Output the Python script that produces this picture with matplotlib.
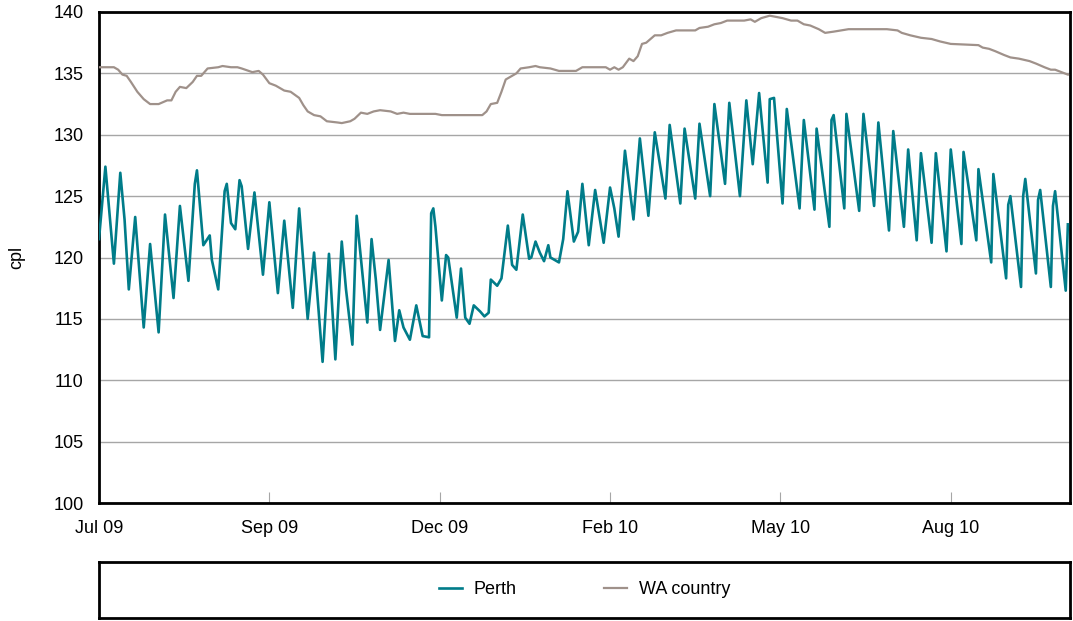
import matplotlib
matplotlib.use('Agg')
import matplotlib.pyplot as plt
from matplotlib.lines import Line2D

plt.rcParams['font.family'] = ['Liberation Sans', 'DejaVu Sans']

# x axis is days since 1 Jul 2009, ticks every 80 days
tick_days = [0, 80, 160, 240, 320, 400]
tick_labels = ['Jul 09', 'Sep 09', 'Dec 09', 'Feb 10', 'May 10', 'Aug 10']
y_ticks = [100, 105, 110, 115, 120, 125, 130, 135, 140]

# Perth, turning points
perth_day = [0, 3, 7, 10, 12, 14, 17, 21, 24, 28, 31, 35, 38, 42, 45, 46, 49, 52, 53, 56,
             59, 60, 62, 64, 66, 67, 70, 73, 77, 80, 84, 87, 91, 94, 98, 101, 105, 108, 111, 114,
             116, 119, 121, 126, 128, 130, 132, 136, 139, 141, 143, 146, 149, 152, 155, 156, 157, 158, 161, 163,
             164, 168, 170, 172, 174, 176, 179, 181, 183, 184, 187, 189, 192, 194, 196, 199, 202, 203, 205, 207,
             209, 211, 212, 216, 218, 220, 223, 225, 227, 230, 233, 237, 240, 242, 244, 247, 251, 254, 258, 261,
             266, 268, 273, 275, 280, 282, 287, 289, 294, 296, 301, 304, 307, 310, 314, 315, 317, 321, 323, 329,
             331, 336, 337, 343, 344, 345, 350, 351, 357, 359, 364, 366, 371, 373, 378, 380, 384, 386, 391, 393,
             398, 400, 405, 406, 412, 413, 419, 420, 426, 427, 428, 433, 434, 435, 440, 441, 442, 447, 448, 449,
             454, 455]
perth_cpl = [121.5, 127.4, 119.5, 126.9, 123.1, 117.4, 123.3, 114.3, 121.1, 113.9, 123.5, 116.7, 124.2, 118.1, 126.0, 127.1, 121.0, 121.8, 119.8, 117.4,
             125.4, 126.0, 122.8, 122.3, 126.3, 125.8, 120.7, 125.3, 118.6, 124.5, 117.1, 123.0, 115.9, 124.0, 115.0, 120.4, 111.5, 120.3, 111.7, 121.3,
             117.4, 112.9, 123.4, 114.7, 121.5, 118.2, 114.1, 119.8, 113.2, 115.7, 114.3, 113.3, 116.1, 113.6, 113.5, 123.6, 124.0, 122.5, 116.5, 120.2,
             120.0, 115.1, 119.1, 115.1, 114.6, 116.1, 115.6, 115.2, 115.5, 118.2, 117.7, 118.3, 122.6, 119.4, 119.0, 123.5, 119.9, 120.0, 121.3, 120.4,
             119.7, 121.0, 120.0, 119.6, 121.5, 125.4, 121.3, 122.1, 126.0, 121.0, 125.5, 121.2, 125.7, 124.0, 121.7, 128.7, 123.1, 129.7, 123.4, 130.2,
             124.8, 130.8, 124.4, 130.5, 124.8, 130.9, 125.0, 132.5, 126.0, 132.6, 125.0, 132.8, 127.6, 133.4, 126.1, 132.9, 133.0, 124.4, 132.1, 124.0,
             131.2, 123.9, 130.5, 122.5, 131.2, 131.6, 124.0, 131.7, 123.8, 131.7, 124.2, 131.0, 122.2, 130.3, 122.5, 128.8, 121.4, 128.5, 121.2, 128.5,
             120.5, 128.8, 121.1, 128.6, 121.4, 127.2, 119.6, 126.8, 118.3, 124.3, 125.0, 117.6, 125.0, 126.4, 118.7, 124.7, 125.5, 117.6, 124.2, 125.4,
             117.3, 122.7]

# WA country
wa_day = [0, 7, 9, 11, 13, 15, 18, 21, 24, 28, 32, 34, 36, 38, 41, 44, 46, 48, 51, 56,
          58, 62, 65, 67, 72, 75, 77, 80, 83, 87, 90, 94, 96, 98, 101, 104, 107, 112, 114, 118,
          120, 123, 126, 129, 132, 137, 140, 143, 146, 158, 161, 180, 182, 184, 187, 189, 191, 194, 196, 198,
          202, 205, 207, 212, 216, 224, 227, 233, 238, 240, 242, 244, 246, 249, 251, 253, 255, 257, 261, 264,
          267, 271, 280, 282, 286, 289, 292, 295, 303, 306, 308, 311, 315, 318, 321, 325, 328, 331, 334, 338,
          341, 345, 352, 370, 375, 377, 381, 386, 391, 395, 400, 413, 415, 418, 421, 425, 428, 432, 437, 440,
          444, 447, 449, 452, 455]
wa_cpl = [135.5, 135.5, 135.3, 134.9, 134.8, 134.3, 133.5, 132.9, 132.5, 132.5, 132.8, 132.8, 133.5, 133.9, 133.8, 134.3, 134.8, 134.8, 135.4, 135.5,
          135.6, 135.5, 135.5, 135.4, 135.1, 135.2, 134.9, 134.2, 134.0, 133.6, 133.5, 133.0, 132.4, 131.9, 131.6, 131.5, 131.1, 131.0, 130.95, 131.1,
          131.3, 131.8, 131.7, 131.9, 132.0, 131.9, 131.7, 131.8, 131.7, 131.7, 131.6, 131.6, 131.9, 132.5, 132.6, 133.5, 134.5, 134.8, 135.0, 135.4,
          135.5, 135.6, 135.5, 135.4, 135.2, 135.2, 135.5, 135.5, 135.5, 135.3, 135.5, 135.3, 135.5, 136.2, 136.0, 136.4, 137.4, 137.5, 138.1, 138.1,
          138.3, 138.5, 138.5, 138.7, 138.8, 139.0, 139.1, 139.3, 139.3, 139.4, 139.2, 139.5, 139.7, 139.6, 139.5, 139.3, 139.3, 139.0, 138.9, 138.6,
          138.3, 138.4, 138.6, 138.6, 138.5, 138.3, 138.1, 137.9, 137.8, 137.6, 137.4, 137.3, 137.1, 137.0, 136.8, 136.5, 136.3, 136.2, 136.0, 135.8,
          135.5, 135.3, 135.3, 135.1, 134.9]

perth_color = '#007C89'
wa_color = '#9F918A'
grid_color = '#A6A6A6'

fig = plt.figure(figsize=(10.73, 6.21), dpi=100)
ax = fig.add_axes([99 / 1073, 1 - 503 / 621, 971 / 1073, 491 / 621])

ax.plot(perth_day, perth_cpl, color=perth_color, lw=1.9, label='Perth', zorder=3)
ax.plot(wa_day, wa_cpl, color=wa_color, lw=1.6, label='WA country', zorder=3)

ax.set_xlim(0, 456)
ax.set_ylim(100, 140)
ax.set_yticks(y_ticks)
ax.set_xticks(tick_days)
ax.set_xticklabels(tick_labels)
ax.grid(axis='y', color=grid_color, lw=1.0)
ax.set_axisbelow(True)
ax.tick_params(axis='y', length=0, pad=11, labelsize=13)
ax.tick_params(axis='x', direction='in', length=8, width=0.8, color=grid_color, pad=12, labelsize=13)
for s in ax.spines.values():
    s.set_linewidth(2)
    s.set_color('black')
ax.set_ylabel('cpl', fontsize=13)
ax.yaxis.set_label_coords(-0.076, 0.5)

# legend box below the plot
lax = fig.add_axes([99 / 1073, 1 - 618 / 621, 971 / 1073, 56 / 621])
lax.set_xticks([])
lax.set_yticks([])
for s in lax.spines.values():
    s.set_linewidth(2)
    s.set_color('black')
handles = [Line2D([], [], color=perth_color, lw=1.9), Line2D([], [], color=wa_color, lw=1.6)]
lax.legend(handles, ['Perth', 'WA country'], loc='center', ncol=2, frameon=False, fontsize=13,
           handlelength=1.3, handletextpad=0.65, columnspacing=4.8)

fig.savefig('out.png', dpi=100)
